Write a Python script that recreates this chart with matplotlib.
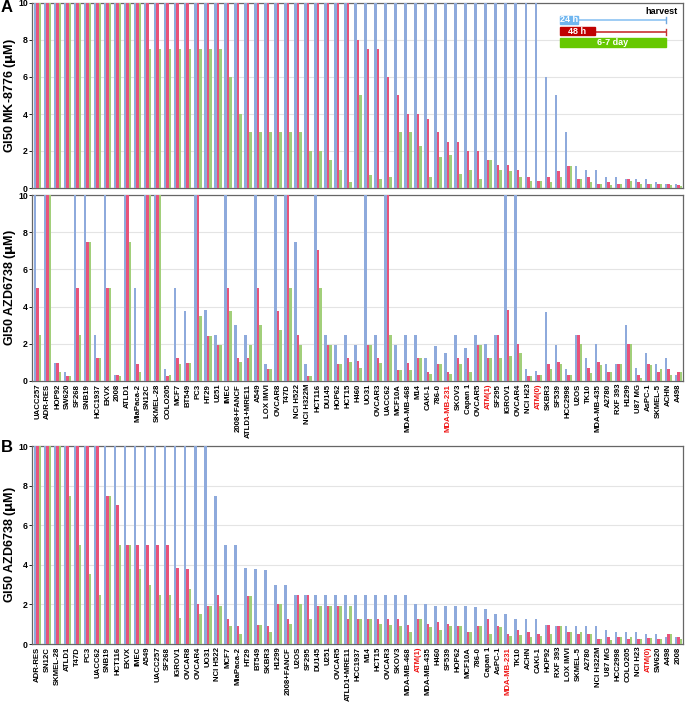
import numpy as np
import matplotlib
matplotlib.use('Agg')
import matplotlib.pyplot as plt
from matplotlib.patches import Rectangle
from matplotlib.lines import Line2D

plt.rcParams['font.family'] = ['Liberation Sans', 'DejaVu Sans']
plt.rcParams['font.weight'] = 'bold'

# ---- data ----
cells_A = ['UACC257', 'ADR-RES', 'HOP92', 'SW620', 'SF268', 'SNB19', 'HCC1937', 'EKVX', '2008',
           'ATLD1', 'MiaPaca-2', 'SN12C', 'SKMEL-28', 'COLO205', 'MCF7', 'BT549', 'PC3', 'HT29',
           'U251', 'IMEC', '2008+FANCF', 'ATLD1+MRE11', 'A549', 'LOX IMVI', 'OVCAR8', 'T47D',
           'NCI H522', 'NCI H322M', 'HCT116', 'DU145', 'HOP62', 'HCT15', 'H460', 'UO31', 'OVCAR3',
           'UACC62', 'MCF10A', 'MDA-MB-468', 'M14', 'CAKI-1', '786-0', 'MDA-MB-231', 'SKOV3',
           'Capan 1', 'OVCAR5', 'ATM(1)', 'SF295', 'IGROV1', 'OVCAR4', 'NCI H23', 'ATM(0)', 'SKBR3',
           'SF539', 'HCC2998', 'U2OS', 'TK10', 'MDA-MB-435', 'A2780', 'RXF 393', 'H1299', 'U87 MG',
           'AsPC-1', 'SKMEL-5', 'ACHN', 'A498']

# GI50 MK-8776 (uM)
mk_24h = [10] * 51 + [6.0, 5.0, 3.0, 1.2, 1.0, 1.0, 0.6, 0.6, 0.5, 0.5, 0.5, 0.3, 0.2, 0.2]
mk_48h = [10] * 32 + [8.0, 7.5, 7.5, 6.0, 5.0, 4.0, 4.0, 3.75, 3.0, 2.5, 2.5, 2.0, 2.0, 1.5,
                      1.25, 1.25, 1.0, 0.6, 0.4, 0.6, 0.9, 1.2, 0.5, 0.6, 0.2, 0.3, 0.2, 0.5,
                      0.3, 0.2, 0.2, 0.2, 0.15]
mk_67d = [10] * 11 + [7.5] * 8 + [6.0, 4.0] + [3.0] * 6 + [2.0, 2.0, 1.5, 1.0, 0.3,
          5.0, 0.7, 0.5, 0.6, 3.0, 3.0, 2.25, 0.6, 1.65, 1.8, 0.75, 1.0, 0.5, 1.5, 1.0,
          0.9, 0.6, 0.4, 0.4, 0.3, 0.6, 1.2, 0.5, 0.3, 0.2, 0.15, 0.2, 0.4, 0.2, 0.2,
          0.2, 0.15, 0.1]

# GI50 AZD6738 (uM)
azd_24h = [10, 10, 0.95, 0.48, 10, 10, 2.5, 10, 0.33, 10, 5.0, 10, 10, 0.63, 5.0, 3.77, 10,
           3.84, 2.5, 10, 3.0, 2.5, 10, 0.93, 10, 10, 7.5, 0.93, 10, 2.5, 1.92, 2.5, 1.92, 10,
           2.5, 10, 1.92, 2.5, 2.5, 1.25, 1.89, 1.5, 2.5, 1.76, 2.5, 2.0, 2.5, 10, 10, 0.63,
           0.52, 3.72, 1.92, 0.63, 2.5, 1.25, 2.0, 0.93, 0.93, 3.0, 0.72, 1.53, 0.93, 1.25, 0.33]
azd_48h = [5.0, 10, 0.95, 0.27, 5.0, 7.5, 1.25, 5.0, 0.33, 10, 0.93, 10, 10, 0.25, 1.25, 0.97,
           10, 2.42, 1.92, 5.0, 1.25, 1.25, 5.0, 0.63, 3.77, 10, 2.5, 0.27, 7.04, 1.92, 0.93,
           1.25, 1.1, 1.92, 1.25, 10, 0.61, 0.97, 1.25, 0.48, 0.93, 0.48, 1.25, 1.25, 1.92,
           1.25, 2.5, 3.84, 2.0, 0.25, 0.3, 0.93, 1.02, 0.33, 2.5, 0.72, 1.02, 0.48, 0.93, 2.0,
           0.33, 0.93, 0.48, 0.63, 0.48]
azd_67d = [2.5, 10, 0.48, 0.27, 2.5, 7.5, 1.25, 5.0, 0.25, 7.5, 0.48, 10, 10, 0.33, 0.93, 0.97,
           3.52, 2.42, 1.92, 3.77, 1.02, 1.92, 3.0, 0.63, 2.76, 5.0, 1.92, 0.27, 5.0, 1.92, 0.93,
           1.0, 0.72, 1.92, 0.97, 2.5, 0.61, 0.61, 1.25, 0.4, 0.93, 0.4, 0.93, 0.48, 1.92, 1.25,
           1.25, 1.33, 1.53, 0.25, 0.3, 0.63, 0.93, 0.33, 2.0, 0.43, 0.84, 0.48, 0.93, 2.0, 0.18,
           0.84, 0.63, 0.33, 0.48]

cells_B = ['ADR-RES', 'SN12C', 'SKMEL-28', 'ATLD1', 'T47D', 'PC3', 'UACC62', 'SNB19', 'HCT116',
           'EKVX', 'IMEC', 'A549', 'UACC257', 'SF268', 'IGROV1', 'OVCAR8', 'OVCAR4', 'UO31',
           'NCI H522', 'MCF7', 'MiaPaca-2', 'HT29', 'BT549', 'SKBR3', 'H1299', '2008+FANCF',
           'U2OS', 'SF295', 'DU145', 'U251', 'OVCAR5', 'ATLD1+MRE11', 'HCC1937', 'M14', 'HCT15',
           'OVCAR3', 'SKOV3', 'MDA-MB-468', 'ATM(1)', 'MDA-MB-435', 'H460', 'SF539', 'HOP62',
           'MCF10A', '786-0', 'Capan 1', 'AsPC-1', 'MDA-MB-231', 'TK10', 'ACHN', 'CAKI-1', 'HOP92',
           'RXF 393', 'LOX IMVI', 'SKMEL-5', 'A2780', 'NCI H322M', 'U87 MG', 'HCC2998', 'COLO205',
           'NCI H23', 'ATM(0)', 'SW620', 'A498', '2008']

red_labels = ['MDA-MB-231', 'ATM(1)', 'ATM(0)']

c24 = '#8eaadc'
c48 = '#e8537b'
c67 = '#a2cf7a'

W, H = 685, 705
fig = plt.figure(figsize=(W / 100, H / 100), dpi=100)


def px_axes(left, top, right, bottom):
    return fig.add_axes([left / W, 1 - bottom / H, (right - left) / W, (bottom - top) / H])


def draw_bars(ax, labels, v24, v48, v67, ylabel, show_labels):
    x = np.arange(len(labels))
    w = 0.25
    ax.bar(x - w, v24, w, color=c24, zorder=3)
    ax.bar(x, v48, w, color=c48, zorder=3)
    ax.bar(x + w, v67, w, color=c67, zorder=3)
    ax.set_xlim(-0.55, len(labels) - 0.55)
    ax.set_ylim(0, 10)
    ax.set_yticks([0, 2, 4, 6, 8, 10])
    ax.yaxis.grid(True, color='#e4e4e4', lw=0.8, zorder=0)
    ax.tick_params(axis='y', labelsize=6.3, length=2, width=0.6, pad=1)
    for t in ax.get_yticklabels():
        t.set_fontweight('bold')
    ax.set_ylabel(ylabel, fontsize=9, fontweight='bold')
    ax.yaxis.set_label_coords(-0.021, 0.5)
    for s in ax.spines.values():
        s.set_color('#666666')
        s.set_linewidth(0.9)
    ax.set_xticks(x)
    if show_labels:
        ax.set_xticklabels(labels, rotation=90, fontsize=5.6, fontweight='bold')
        for t in ax.get_xticklabels():
            if t.get_text() in red_labels:
                t.set_color('#ee1111')
    else:
        ax.set_xticklabels([])
    ax.tick_params(axis='x', length=0, pad=2)


ax1 = px_axes(32, 3, 683, 188)
draw_bars(ax1, cells_A, mk_24h, mk_48h, mk_67d, r'GI50 MK-8776 ($\mathbf{\mu}$M)', False)

ax2 = px_axes(32, 195, 683, 381)
draw_bars(ax2, cells_A, azd_24h, azd_48h, azd_67d, r'GI50 AZD6738 ($\mathbf{\mu}$M)', True)

# panel B: same AZD6738 values, sorted
idx = [cells_A.index(c) for c in cells_B]
ax3 = px_axes(32, 446, 683, 644)
draw_bars(ax3, cells_B, [azd_24h[i] for i in idx], [azd_48h[i] for i in idx],
          [azd_67d[i] for i in idx], r'GI50 AZD6738 ($\mathbf{\mu}$M)', True)

fig.text(1 / W, 1 - 8 / H, 'A', fontsize=12, fontweight='bold', va='center', ha='left')
fig.text(1 / W, 1 - 448 / H, 'B', fontsize=12, fontweight='bold', va='center', ha='left')

# legend (harvest timeline)
def fx(v):
    return v / W


def fy(v):
    return 1 - v / H


fig.text(fx(678), fy(12), 'harvest', fontsize=6.5, fontweight='bold', ha='right', va='center')
fig.patches.append(Rectangle((fx(560), fy(23.5)), fx(578) - fx(560), (fy(16) - fy(23.5)),
                             transform=fig.transFigure, color='#6fb6f0', zorder=5))
fig.text(fx(569), fy(19.8), '24 h', fontsize=6.5, fontweight='bold', color='white', ha='center', va='center', zorder=6)
fig.lines.append(Line2D([fx(578), fx(666)], [fy(20), fy(20)], transform=fig.transFigure, color='#8ec4f2', lw=1.2))
fig.lines.append(Line2D([fx(666), fx(666)], [fy(17), fy(23)], transform=fig.transFigure, color='#6fa8e0', lw=1))

fig.patches.append(Rectangle((fx(560), fy(35)), fx(595) - fx(560), (fy(27) - fy(35)),
                             transform=fig.transFigure, color='#c00000', zorder=5))
fig.text(fx(577.5), fy(31), '48 h', fontsize=6.5, fontweight='bold', color='white', ha='center', va='center', zorder=6)
fig.lines.append(Line2D([fx(595), fx(666)], [fy(31.5), fy(31.5)], transform=fig.transFigure, color='#c83030', lw=1.2))
fig.lines.append(Line2D([fx(666), fx(666)], [fy(28.5), fy(34.5)], transform=fig.transFigure, color='#c83030', lw=1))

fig.patches.append(Rectangle((fx(560), fy(46.5)), fx(666) - fx(560), (fy(38) - fy(46.5)),
                             transform=fig.transFigure, color='#66c800', zorder=5))
fig.text(fx(613), fy(42.3), '6-7 day', fontsize=6.5, fontweight='bold', color='white', ha='center', va='center', zorder=6)

fig.savefig('out.png', dpi=100)
